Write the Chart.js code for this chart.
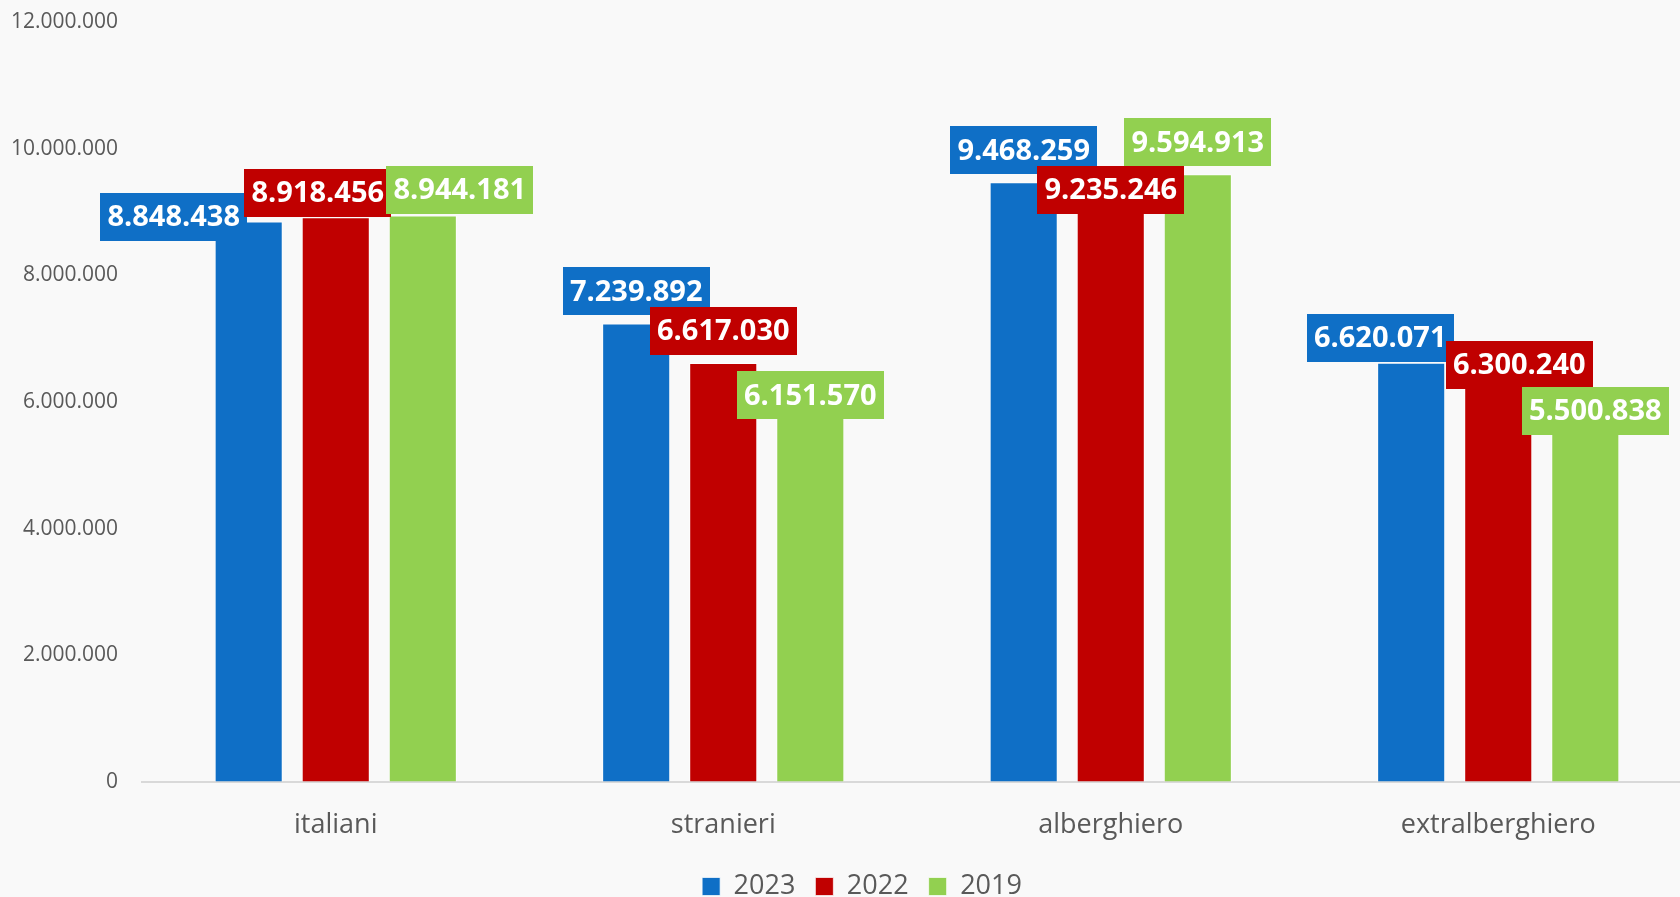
<!DOCTYPE html>
<html>
<head>
    <title>Presenze 2023 / 2022 / 2019</title>
    <script src="https://cdn.jsdelivr.net/npm/chart.js"></script>
    <style>
        html, body { margin: 0; padding: 0; overflow: hidden; background: #f9f9f9; }
        #chart { position: absolute; left: 0; top: 0; }
    </style>
</head>
<body>
    <canvas id="chart" width="1724" height="910"></canvas>

    <script>
        // Data
        const categories = ['italiani', 'stranieri', 'alberghiero', 'extralberghiero'];
        const years = ['2023', '2022', '2019'];
        const values2023 = [8848438, 7239892, 9468259, 6620071];
        const values2022 = [8918456, 6617030, 9235246, 6300240];
        const values2019 = [8944181, 6151570, 9594913, 5500838];
        const yTicks = [0, 2000000, 4000000, 6000000, 8000000, 10000000, 12000000];

        const colors = ['#0f6fc6', '#c00000', '#92d050'];

        // label box nudges [dx, dy] per series/category (the callouts were moved by hand)
        const labelNudge = [
            [[-75, 27], [0, 0], [0, 0], [-31, 7]],
            [[-18, 8], [0, 0], [0, 25], [21, 14]],
            [[37, 6], [0, 35], [0, 0], [10, 9]]
        ];

        function fmt(v) {
            return String(v).replace(/\B(?=(\d{3})+(?!\d))/g, '.');
        }

        // Callout boxes above the bars
        const calloutPlugin = {
            id: 'callouts',
            afterLayout(chart) {
                // legend is centred on the whole chart, not on the padded box
                chart.legend.left += 16;
                chart.legend.right += 16;
            },
            afterDatasetsDraw(chart) {
                const ctx = chart.ctx;
                const boxW = 147, boxH = 48;
                ctx.save();
                ctx.font = 'bold 29px "Open Sans"';
                ctx.textAlign = 'center';
                ctx.textBaseline = 'middle';
                chart.data.datasets.forEach((ds, i) => {
                    const meta = chart.getDatasetMeta(i);
                    meta.data.forEach((bar, j) => {
                        const [dx, dy] = labelNudge[i][j];
                        const cx = bar.x + dx;
                        const cy = bar.y - 8 - boxH / 2 + dy;
                        ctx.fillStyle = colors[i];
                        ctx.fillRect(Math.round(cx - boxW / 2), Math.round(cy - boxH / 2), boxW, boxH);
                        ctx.fillStyle = '#ffffff';
                        ctx.fillText(fmt(ds.data[j]), cx, cy + 1);
                    });
                });
                ctx.restore();
            }
        };

        const seriesValues = [values2023, values2022, values2019];

        new Chart(document.getElementById('chart'), {
            type: 'bar',
            data: {
                labels: categories,
                datasets: years.map((y, i) => ({
                    label: y,
                    data: seriesValues[i],
                    backgroundColor: colors[i],
                    borderColor: 'rgba(255,255,255,0.7)',
                    borderWidth: 1,
                    categoryPercentage: 0.674,
                    barPercentage: 0.782
                }))
            },
            options: {
                responsive: false,
                animation: false,
                layout: { padding: { top: 22, right: 32, bottom: 0, left: 0 } },
                plugins: {
                    tooltip: { enabled: false },
                    legend: {
                        position: 'bottom',
                        labels: {
                            boxWidth: 18,
                            boxHeight: 18,
                            padding: 20,
                            color: '#595959',
                            font: { family: 'Open Sans', size: 27 }
                        }
                    }
                },
                scales: {
                    x: {
                        grid: { display: false, drawTicks: false },
                        border: { display: true, color: '#d9d9d9', width: 2 },
                        ticks: {
                            color: '#595959',
                            padding: 27,
                            font: { family: 'Open Sans', size: 27 }
                        },
                        afterFit: (scale) => { scale.height = 71; }
                    },
                    y: {
                        min: 0,
                        max: 12000000,
                        grid: {
                            display: true,
                            drawOnChartArea: false,
                            drawTicks: true,
                            tickLength: 20,
                            color: 'rgba(0,0,0,0)'
                        },
                        border: { display: false },
                        afterBuildTicks: (scale) => { scale.ticks = yTicks.map(v => ({ value: v })); },
                        ticks: {
                            color: '#595959',
                            padding: 4,
                            font: { family: 'Open Sans', size: 21 },
                            callback: (v) => fmt(v)
                        },
                        afterFit: (scale) => { scale.width = 142; }
                    }
                }
            },
            plugins: [calloutPlugin]
        });
    </script>
</body>
</html>
